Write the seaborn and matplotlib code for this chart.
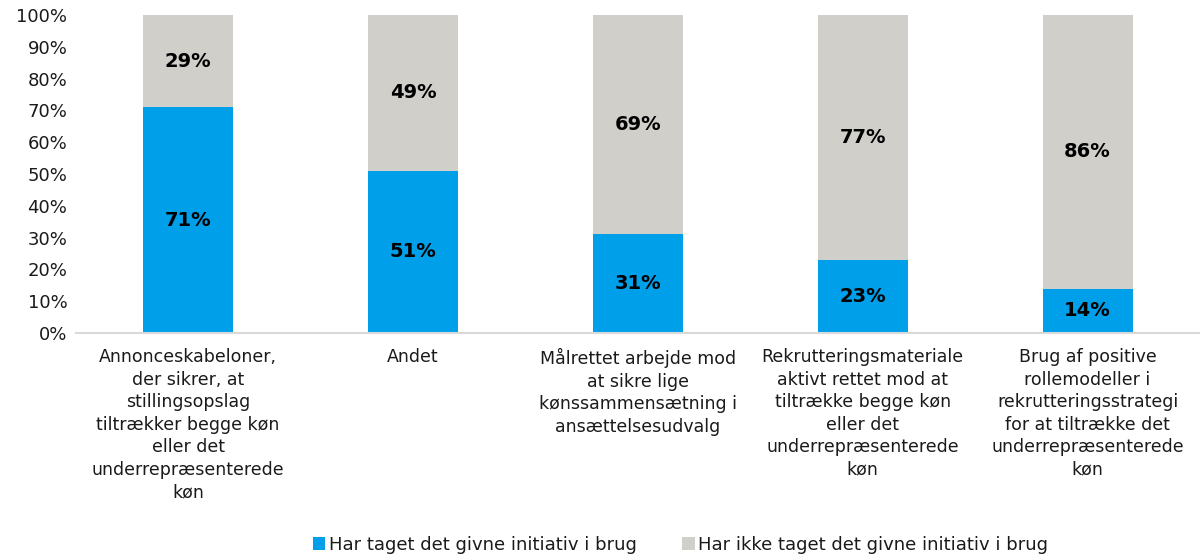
import pandas as pd
import matplotlib.pyplot as plt
import seaborn as sns
from matplotlib.patches import Patch

# =========================
# Data
# =========================
categories = [
    "Annonceskabeloner,\nder sikrer, at\nstillingsopslag\ntiltrækker begge køn\neller det\nunderrepræsenterede\nkøn",
    "Andet",
    "Målrettet arbejde mod\nat sikre lige\nkønssammensætning i\nansættelsesudvalg",
    "Rekrutteringsmateriale\naktivt rettet mod at\ntiltrække begge køn\neller det\nunderrepræsenterede\nkøn",
    "Brug af positive\nrollemodeller i\nrekrutteringsstrategi\nfor at tiltrække det\nunderrepræsenterede\nkøn",
]
used = [71, 51, 31, 23, 14]
not_used = [29, 49, 69, 77, 86]
series_names = [
    "Har taget det givne initiativ i brug",
    "Har ikke taget det givne initiativ i brug",
]

blue = "#009FEA"
grey = "#D0CFCA"

# =========================
# Style
# =========================
sns.set_theme(style="white")
plt.rcParams.update({
    "font.family": ["DejaVu Sans"],
    "font.size": 13,
    "text.color": "#1a1a1a",
    "xtick.color": "#1a1a1a",
    "ytick.color": "#1a1a1a",
})

df = pd.DataFrame({
    "Kategori": categories,
    "used": used,
    "not_used": not_used,
})
df["total"] = df["used"] + df["not_used"]

fig = plt.figure(figsize=(12, 5.57), dpi=100)
ax = fig.add_axes([0.063, 0.402, 0.937, 0.571])

# grey = full stack (100%), blue drawn on top
sns.barplot(data=df, x="Kategori", y="total", color=grey, width=0.4,
            saturation=1, linewidth=0, ax=ax)
sns.barplot(data=df, x="Kategori", y="used", color=blue, width=0.4,
            saturation=1, linewidth=0, ax=ax)

for i, (u, n) in enumerate(zip(used, not_used)):
    ax.text(i, u / 2, f"{u}%", ha="center", va="center",
            fontsize=14, fontweight="bold", color="black")
    ax.text(i, u + n / 2, f"{n}%", ha="center", va="center",
            fontsize=14, fontweight="bold", color="black")

ax.set_xlim(-0.5, len(categories) - 0.5)
ax.set_ylim(0, 100)
ax.set_yticks(range(0, 101, 10))
ax.set_yticklabels([f"{v}%" for v in range(0, 101, 10)], fontsize=13)
ax.set_xticks(range(len(categories)))
ax.set_xticklabels(categories, fontsize=12.5, linespacing=1.32)
ax.set_xlabel("")
ax.set_ylabel("")
ax.tick_params(axis="both", length=0)
ax.tick_params(axis="x", pad=11)
ax.tick_params(axis="y", pad=6)

for side in ["top", "right", "left"]:
    ax.spines[side].set_visible(False)
ax.spines["bottom"].set_color("#d9d9d9")
ax.spines["bottom"].set_linewidth(1.5)

handles = [Patch(facecolor=blue, edgecolor="none"),
           Patch(facecolor=grey, edgecolor="none")]
fig.legend(handles, series_names, loc="center", ncol=2,
           bbox_to_anchor=(0.567, 0.022), frameon=False, fontsize=13,
           handlelength=0.7, handleheight=0.7, handletextpad=0.2,
           columnspacing=2.5)

fig.savefig("out.png", dpi=100)
